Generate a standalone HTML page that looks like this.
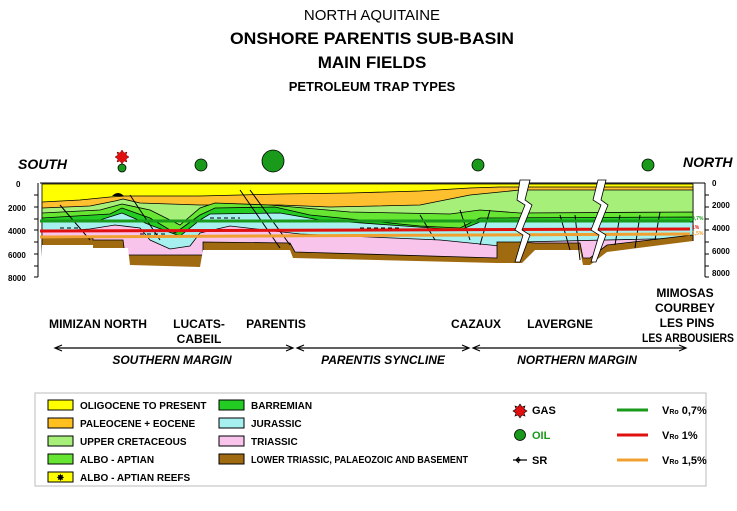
<!DOCTYPE html>
<html><head><meta charset="utf-8"><style>
html,body{margin:0;padding:0;background:#fff;}
svg{display:block;font-family:"Liberation Sans",Arial,sans-serif;}
</style></head><body>
<svg width="737" height="511" viewBox="0 0 737 511" xmlns="http://www.w3.org/2000/svg">
<g text-anchor="middle" fill="#000">
<text x="372" y="20" font-size="15">NORTH AQUITAINE</text>
<text x="372" y="44" font-size="17" font-weight="bold" textLength="284" lengthAdjust="spacingAndGlyphs">ONSHORE PARENTIS SUB-BASIN</text>
<text x="372" y="68" font-size="17" font-weight="bold">MAIN FIELDS</text>
<text x="372" y="91" font-size="13" font-weight="bold">PETROLEUM TRAP TYPES</text>
</g>
<text x="18" y="169" font-size="14" font-weight="bold" font-style="italic">SOUTH</text>
<text x="683" y="167" font-size="14" font-weight="bold" font-style="italic">NORTH</text>
<!-- fields -->
<polygon points="122,150 124,153 127,152 126,155 129,157 126,159 127,162 124,161 122,164 120,161 117,162 118,159 115,157 118,155 117,152 120,153" fill="#e01010" stroke="#600" stroke-width="0.5"/>
<circle cx="122" cy="168" r="4" fill="#1a9a1a" stroke="#000" stroke-width="0.8"/>
<circle cx="201" cy="165" r="6" fill="#1a9a1a" stroke="#000" stroke-width="0.8"/>
<circle cx="273" cy="161" r="11" fill="#1a9a1a" stroke="#000" stroke-width="0.8"/>
<circle cx="478" cy="165" r="6" fill="#1a9a1a" stroke="#000" stroke-width="0.8"/>
<circle cx="648" cy="165" r="6" fill="#1a9a1a" stroke="#000" stroke-width="0.8"/>
<!-- layers -->
<g stroke="#000" stroke-width="0.8">
<polygon points="42,184 693,184 693,285 42,285" fill="#ffff00"/>
<polygon points="42,202 80,200 110,197 125,196 200,196 280,194 350,193 420,191 470,188 500,187 693,187 693,285 42,285" fill="#ffc030"/>
<polygon points="42,208 90,206 115,201 123,199 140,203 200,205 280,205 330,207 420,205 470,195 520,190 693,190 693,285 42,285" fill="#a6f07a"/>
<polygon points="42,213 100,210 122,204 150,210 180,225 200,208 215,203 270,205 350,212 450,214 480,210 520,213 693,212 693,285 42,285" fill="#66e633"/>
<polygon points="42,218 110,214 122,208 150,218 175,233 200,215 215,208 275,207 310,215 420,226 460,228 480,218 693,217 693,285 42,285" fill="#22cc22"/>
<polygon points="42,222 100,220 122,213 150,225 180,236 200,220 210,214 280,213 320,220 460,230 480,222 693,222 693,285 42,285" fill="#a6f0f0"/>
<polygon points="42,232 90,229 115,225 140,228 150,240 170,249 190,246 200,233 230,226 300,234 440,240 500,246 520,242 693,238 693,285 42,285" fill="#f8c4ec"/>
<polygon points="42,238 93,238 93,240 123,240 125,255 203,255 203,242 290,243 295,252 497,258 497,242 522,242 535,243 580,243 583,258 590,258 607,245 693,235 693,285 42,285" fill="#a06a10"/>
</g>
<polygon points="42,245 93,245 93,248 128,248 130,265 200,267 203,250 290,250 293,258 497,263 522,263 535,250 580,250 583,265 590,265 607,252 693,241 694,241 694,295 40,295" fill="#fff"/>
<rect x="693.5" y="184" width="10" height="100" fill="#fff"/>
<!-- faults/lines -->
<g stroke="#000" stroke-width="1" fill="none">
<path d="M40,183 H705"/>
<path d="M60,205 L90,240 M130,195 L160,240 M240,190 L280,248 M250,190 L290,245 M420,215 L435,240"/>
<path d="M460,210 L470,240 M490,210 L480,245 M560,215 L570,250 M575,215 L580,260 M620,215 L615,245 M640,215 L635,248 M660,212 L655,240"/>
<path d="M60,228 H80 M140,234 H165 M300,222 H330 M360,228 H400 M210,218 H240" stroke-dasharray="4,3"/>
</g>
<path d="M112,196 q6,-6 12,0 z" fill="#000"/>
<!-- VRo lines -->
<line x1="40" y1="221" x2="690" y2="221" stroke="#1a9a1a" stroke-width="3"/>
<line x1="40" y1="231" x2="690" y2="229" stroke="#e01010" stroke-width="3"/>
<line x1="40" y1="237" x2="690" y2="234" stroke="#f0a030" stroke-width="3"/>
<g font-size="5" font-weight="bold">
<text x="692" y="220" fill="#1a9a1a">0,7%</text>
<text x="692" y="229" fill="#e01010">1%</text>
<text x="692" y="235" fill="#f0a030">1,5%</text>
</g>
<!-- breaks -->
<polygon points="520,180 530,180 525,200 532,205 522,230 530,235 520,262 515,262 523,235 515,230 525,205 517,200" fill="#fff" stroke="#000" stroke-width="0.8"/>
<polygon points="598,180 606,180 601,200 608,205 598,230 606,235 596,262 591,262 599,235 591,230 601,205 593,200" fill="#fff" stroke="#000" stroke-width="0.8"/>
<!-- axes -->
<g font-size="8" font-weight="bold" fill="#000">
<line x1="38" y1="183" x2="38" y2="277" stroke="#000"/>
<text x="16" y="187">0</text><text x="8" y="211">2000</text><text x="8" y="234">4000</text><text x="8" y="258">6000</text><text x="8" y="281">8000</text>
<line x1="705" y1="183" x2="705" y2="277" stroke="#000"/>
<text x="712" y="186">0</text><text x="712" y="208">2000</text><text x="712" y="231">4000</text><text x="712" y="254">6000</text><text x="712" y="276">8000</text>
</g>
<g stroke="#000" stroke-width="1">
<path d="M34,195 H38 M34,207 H38 M34,219 H38 M34,230 H38 M34,242 H38 M34,254 H38 M34,266 H38 M34,277 H38"/>
<path d="M705,195 H709 M705,207 H709 M705,219 H709 M705,230 H709 M705,242 H709 M705,254 H709 M705,266 H709 M705,277 H709"/>
</g>
<!-- field labels -->
<g font-size="12" font-weight="bold" text-anchor="middle" fill="#000">
<text x="98" y="328" textLength="98" lengthAdjust="spacingAndGlyphs">MIMIZAN NORTH</text>
<text x="199" y="328">LUCATS-</text><text x="199" y="343">CABEIL</text>
<text x="276" y="328">PARENTIS</text>
<text x="476" y="328">CAZAUX</text>
<text x="560" y="328">LAVERGNE</text>
<text x="685" y="297">MIMOSAS</text>
<text x="685" y="312">COURBEY</text>
<text x="687" y="327">LES PINS</text>
<text x="688" y="342" textLength="92" lengthAdjust="spacingAndGlyphs">LES ARBOUSIERS</text>
</g>
<g stroke="#000" stroke-width="1.2" fill="none">
<line x1="56" y1="348" x2="292" y2="348"/><path d="M62,345 L55,348 L62,351 M286,345 L293,348 L286,351"/>
<line x1="298" y1="348" x2="468" y2="348"/><path d="M304,345 L297,348 L304,351 M462,345 L469,348 L462,351"/>
<line x1="474" y1="348" x2="685" y2="348"/><path d="M480,345 L473,348 L480,351 M679,345 L686,348 L679,351"/>
</g>
<g font-size="12" font-weight="bold" font-style="italic" text-anchor="middle">
<text x="172" y="364">SOUTHERN MARGIN</text>
<text x="383" y="364">PARENTIS SYNCLINE</text>
<text x="577" y="364">NORTHERN MARGIN</text>
</g>
<!-- legend -->
<rect x="35" y="393" width="671" height="93" fill="#fff" stroke="#bbb"/>
<g stroke="#000" stroke-width="1">
<rect x="48" y="400" width="25" height="10" fill="#ffff00"/>
<rect x="48" y="418" width="25" height="10" fill="#ffc020"/>
<rect x="48" y="436" width="25" height="10" fill="#a6f07a"/>
<rect x="48" y="454" width="25" height="10" fill="#66e633"/>
<rect x="48" y="472" width="25" height="10" fill="#ffff00"/>
<rect x="219" y="400" width="25" height="10" fill="#22cc22"/>
<rect x="219" y="418" width="25" height="10" fill="#a6f0f0"/>
<rect x="219" y="436" width="25" height="10" fill="#f8c4ec"/>
<rect x="219" y="454" width="25" height="10" fill="#a06a10"/>
</g>
<text x="60.5" y="481" font-size="10" text-anchor="middle">✸</text>
<g font-size="10" font-weight="bold" fill="#000">
<text x="80" y="409">OLIGOCENE TO PRESENT</text>
<text x="80" y="427">PALEOCENE + EOCENE</text>
<text x="80" y="445">UPPER CRETACEOUS</text>
<text x="80" y="463">ALBO - APTIAN</text>
<text x="80" y="481">ALBO - APTIAN REEFS</text>
<text x="251" y="409">BARREMIAN</text>
<text x="251" y="427">JURASSIC</text>
<text x="251" y="445">TRIASSIC</text>
<text x="251" y="463" textLength="217" lengthAdjust="spacingAndGlyphs">LOWER TRIASSIC, PALAEOZOIC AND BASEMENT</text>
<text x="532" y="414" font-size="11">GAS</text>
<text x="532" y="439" font-size="11" fill="#1a9a1a">OIL</text>
<text x="532" y="464" font-size="11">SR</text>
</g>
<polygon points="520,404 522,407 525,406 524,409 527,411 524,413 525,416 522,415 520,418 518,415 515,416 516,413 513,411 516,409 515,406 518,407" fill="#e01010" stroke="#000" stroke-width="0.6"/>
<circle cx="520" cy="435" r="5.5" fill="#1a9a1a" stroke="#000" stroke-width="0.8"/>
<path d="M513,460 H527 M519,457 L516,460 L519,463" stroke="#000" stroke-width="1.2" fill="none"/>
<circle cx="519" cy="460" r="1.5"/>
<line x1="617" y1="410" x2="648" y2="410" stroke="#1a9a1a" stroke-width="3"/>
<line x1="617" y1="435" x2="648" y2="435" stroke="#e01010" stroke-width="3"/>
<line x1="617" y1="460" x2="648" y2="460" stroke="#f0a030" stroke-width="3"/>
<g font-size="11" font-weight="bold">
<text x="662" y="414">V<tspan font-size="7">Ro</tspan> 0,7%</text>
<text x="662" y="439">V<tspan font-size="7">Ro</tspan> 1%</text>
<text x="662" y="464">V<tspan font-size="7">Ro</tspan> 1,5%</text>
</g>
</svg>
</body></html>
